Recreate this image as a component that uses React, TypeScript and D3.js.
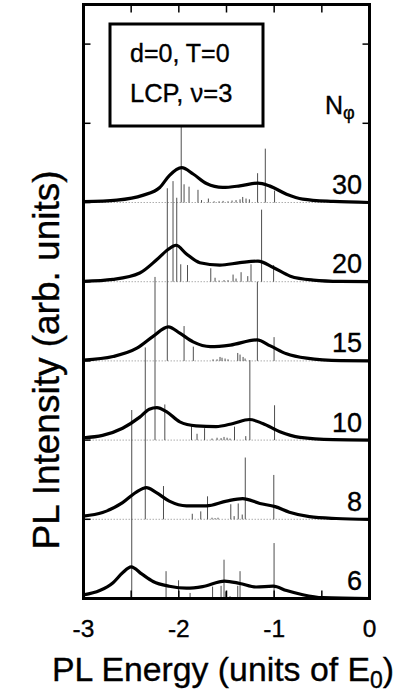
import React from "react";
import * as d3 from "d3";

// ---- data ----
const fluxLabels = ["6", "8", "10", "15", "20", "30"];
const xTickValues = [-3, -2, -1, 0];
const xMinorTicks = [-2.5, -2, -1.5, -1, -0.5];
const yTickLevels = [0, 1, 2, 3, 4, 5, 6, 7];

const E6 = [-3, -2.83, -2.69, -2.59, -2.5, -2.39, -2.27, -2.1, -1.92, -1.75, -1.52, -1.36, -1.19, -1.01, -0.87, -0.7, -0.49, 0];
const I6 = [0.045, 0.1, 0.2, 0.325, 0.4, 0.31, 0.215, 0.155, 0.13, 0.15, 0.22, 0.19, 0.145, 0.155, 0.1, 0.047, 0.01, 0];
const E8 = [-3, -2.8, -2.59, -2.45, -2.34, -2.24, -2.1, -1.92, -1.71, -1.5, -1.33, -1.15, -0.99, -0.84, -0.63, -0.35, 0];
const I8 = [0.04, 0.085, 0.21, 0.34, 0.4, 0.34, 0.23, 0.17, 0.17, 0.23, 0.26, 0.2, 0.16, 0.09, 0.034, 0.01, 0];
const E10 = [-3, -2.8, -2.59, -2.41, -2.31, -2.23, -2.13, -1.99, -1.82, -1.61, -1.43, -1.26, -1.12, -0.94, -0.73, -0.38, 0];
const I10 = [0.03, 0.06, 0.15, 0.29, 0.39, 0.41, 0.36, 0.23, 0.18, 0.17, 0.21, 0.26, 0.21, 0.105, 0.034, 0.005, 0];
const E15 = [-3, -2.69, -2.44, -2.27, -2.11, -1.99, -1.85, -1.67, -1.46, -1.18, -1.04, -0.87, -0.66, -0.3, 0];
const I15 = [0.01, 0.055, 0.16, 0.31, 0.43, 0.35, 0.24, 0.18, 0.2, 0.265, 0.19, 0.09, 0.034, 0.003, 0];
const E20 = [-3, -2.69, -2.41, -2.23, -2.11, -2.03, -1.92, -1.78, -1.57, -1.36, -1.17, -1.01, -0.83, -0.59, -0.3, 0];
const I20 = [0.005, 0.03, 0.11, 0.28, 0.41, 0.46, 0.35, 0.24, 0.21, 0.24, 0.26, 0.18, 0.07, 0.02, 0.003, 0];
const E30 = [-3, -2.65, -2.38, -2.2, -2.1, -1.97, -1.85, -1.71, -1.54, -1.36, -1.17, -1.05, -0.87, -0.7, -0.38, 0];
const I30 = [0.01, 0.03, 0.09, 0.19, 0.34, 0.44, 0.36, 0.24, 0.19, 0.21, 0.245, 0.21, 0.105, 0.043, 0.013, 0];

// stick spectra (energy, strength)
const S6E = [-2.494, -2.134, -2.003, -1.882, -1.646, -1.557, -1.526, -1.508, -1.463, -1.382, -1.358, -1.001];
const S6H = [2.38, 0.345, 0.23, 0.07, 0.15, 0.16, 0.49, 0.09, 0.03, 0.16, 0.345, 0.7];
const S8E = [-2.352, -2.161, -1.859, -1.77, -1.699, -1.652, -1.62, -1.589, -1.455, -1.42, -1.377, -1.335, -1.303, -1.004];
const S8H = [2.17, 0.42, 0.07, 0.1, 0.29, 0.02, 0.015, 0.02, 0.19, 0.04, 0.2, 0.06, 0.78, 0.56];
const S10E = [-2.25, -2.147, -1.867, -1.809, -1.73, -1.652, -1.599, -1.557, -1.526, -1.494, -1.463, -1.416, -1.298, -1.255, -0.996];
const S10H = [2.06, 0.45, 0.18, 0.08, 0.15, 0.02, 0.03, 0.025, 0.04, 0.03, 0.02, 0.17, 0.05, 1.01, 0.44];
const S15E = [-2.121, -1.945, -1.848, -1.641, -1.599, -1.568, -1.547, -1.515, -1.484, -1.382, -1.358, -1.326, -1.305, -1.176, -1.001];
const S15H = [2.18, 0.44, 0.18, 0.02, 0.02, 0.05, 0.04, 0.03, 0.02, 0.1, 0.08, 0.05, 0.03, 1.0, 0.3];
const S20E = [-2.061, -2.022, -1.98, -1.909, -1.665, -1.62, -1.578, -1.526, -1.484, -1.431, -1.4, -1.347, -1.277, -1.243, -1.132, -1.006];
const S20H = [1.27, 1.06, 0.22, 0.21, 0.17, 0.05, 0.015, 0.02, 0.02, 0.09, 0.04, 0.12, 0.07, 0.22, 0.91, 0.21];
const S30E = [-1.975, -1.945, -1.893, -1.799, -1.762, -1.69, -1.63, -1.578, -1.536, -1.484, -1.442, -1.4, -1.358, -1.33, -1.295, -1.26, -1.174, -1.093, -0.996];
const S30H = [2.1, 0.23, 0.2, 0.16, 0.03, 0.05, 0.015, 0.015, 0.02, 0.015, 0.025, 0.03, 0.04, 0.07, 0.05, 0.04, 0.37, 0.68, 0.15];

const spectra = [
  { E: E6, I: I6, sE: S6E, sH: S6H },
  { E: E8, I: I8, sE: S8E, sH: S8H },
  { E: E10, I: I10, sE: S10E, sH: S10H },
  { E: E15, I: I15, sE: S15E, sH: S15H },
  { E: E20, I: I20, sE: S20E, sH: S20H },
  { E: E30, I: I30, sE: S30E, sH: S30H },
];

const FONT = "'Liberation Sans', Arial, Helvetica, sans-serif";

export default function App() {
  const W = 406, H = 694;
  const left = 83.5, right = 369.5, top = 4.5, bottom = 598.5;
  const x = d3.scaleLinear().domain([-3, 0]).range([left, right]);
  const y = d3.scaleLinear().domain([0, 7.5]).range([bottom, top]);

  const line = (E: number[], I: number[], k: number) =>
    d3
      .line<number>()
      .x((_, i) => x(E[i]))
      .y((_, i) => y(k + I[i]))
      .curve(d3.curveMonotoneX)(E as any) || "";

  const textStroke = { stroke: "#000", strokeWidth: 0.35 };

  return (
    <svg
      width={W}
      height={H}
      style={{ position: "absolute", left: 0, top: 0, background: "#fff" }}
      fontFamily={FONT}
    >
      <rect x={0} y={0} width={W} height={H} fill="#fff" />
      {/* baselines */}
      {spectra.map((s, k) => (
        <line
          key={"b" + k}
          x1={left}
          x2={right}
          y1={y(k)}
          y2={y(k)}
          stroke="#999"
          strokeWidth={0.8}
          strokeDasharray="1.5,1.5"
        />
      ))}
      {/* sticks */}
      {spectra.map((s, k) =>
        s.sE.map((e, i) => (
          <line
            key={"s" + k + "-" + i}
            x1={x(e)}
            x2={x(e)}
            y1={y(k)}
            y2={y(k + s.sH[i])}
            stroke="#3a3a3a"
            strokeWidth={0.9}
          />
        ))
      )}
      {/* curves */}
      {spectra.map((s, k) => (
        <path key={"c" + k} d={line(s.E, s.I, k)} fill="none" stroke="#000" strokeWidth={3.2} strokeLinejoin="round" />
      ))}
      {/* curve labels */}
      {spectra.map((s, k) => (
        <text key={"l" + k} x={362} y={y(k) - 8.5} fontSize={27} textAnchor="end" fill="#000" {...textStroke}>
          {fluxLabels[k]}
        </text>
      ))}
      {/* legend box */}
      <rect x={110} y={24} width={153} height={102} fill="#fff" stroke="#000" strokeWidth={3} />
      <text x={130} y={62} fontSize={25} {...textStroke}>d=0, T=0</text>
      <text x={130} y={102} fontSize={25.5} {...textStroke}>LCP, ν=3</text>
      {/* N_phi */}
      <text x={325} y={113.5} fontSize={25} {...textStroke}>
        N
        <tspan fontSize={18} dy={5}>φ</tspan>
      </text>
      {/* ticks */}
      {xMinorTicks.map((t) => (
        <g key={"xt" + t}>
          <line x1={x(t)} x2={x(t)} y1={top} y2={top + 8} stroke="#000" strokeWidth={1.5} />
          <line x1={x(t)} x2={x(t)} y1={bottom} y2={bottom - 8} stroke="#000" strokeWidth={1.5} />
        </g>
      ))}
      {yTickLevels.map((t) => (
        <g key={"yt" + t}>
          <line x1={left} x2={left + 7} y1={y(t)} y2={y(t)} stroke="#000" strokeWidth={1.5} />
          <line x1={right} x2={right - 7} y1={y(t)} y2={y(t)} stroke="#000" strokeWidth={1.5} />
        </g>
      ))}
      {/* frame */}
      <rect x={left} y={top} width={right - left} height={bottom - top} fill="none" stroke="#000" strokeWidth={3} />
      {/* x tick labels */}
      {xTickValues.map((t) => (
        <text key={"xl" + t} x={x(t)} y={637} fontSize={24.5} textAnchor="middle" {...textStroke}>
          {t === 0 ? "0" : "-" + Math.abs(t)}
        </text>
      ))}
      {/* axis titles */}
      <text x={223} y={681} fontSize={33.8} textAnchor="middle" {...textStroke}>
        PL Energy (units of E
        <tspan fontSize={23} dy={7}>0</tspan>
        <tspan dy={-7}>)</tspan>
      </text>
      <text transform={`translate(59,360) rotate(-90)`} fontSize={37} textAnchor="middle" {...textStroke}>
        PL Intensity (arb. units)
      </text>
    </svg>
  );
}
